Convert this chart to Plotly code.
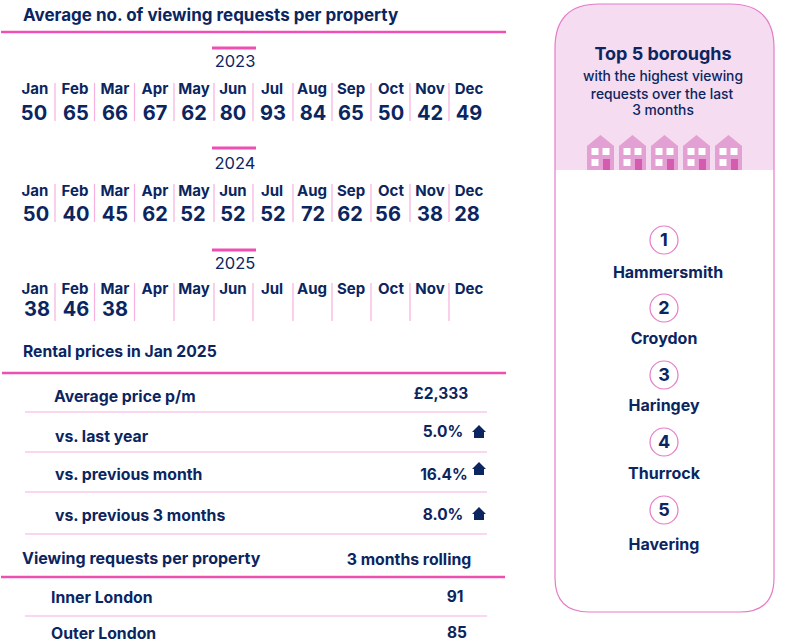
import plotly.graph_objects as go

# data
months = ["Jan", "Feb", "Mar", "Apr", "May", "Jun", "Jul", "Aug", "Sep", "Oct", "Nov", "Dec"]
years = ["2023", "2024", "2025"]
values_2023 = [50, 65, 66, 67, 62, 80, 93, 84, 65, 50, 42, 49]
values_2024 = [50, 40, 45, 62, 52, 52, 52, 72, 62, 56, 38, 28]
values_2025 = [38, 46, 38]

rental_labels = ["Average price p/m", "vs. last year", "vs. previous month", "vs. previous 3 months"]
rental_values = ["£2,333", "5.0%", "16.4%", "8.0%"]

rolling_labels = ["Inner London", "Outer London"]
rolling_values = [91, 85]

boroughs = ["Hammersmith", "Croydon", "Haringey", "Thurrock", "Havering"]

NAVY = "#0b2560"
PINK = "#ee50b2"
LIGHT = "#f7b0e0"
FONT = "Inter"

# layout, all in page pixels
month_x = [35, 75, 115, 155, 194, 233, 272, 312, 351, 391, 430, 469]
sep_x = [55, 94.5, 134.5, 174, 214, 253, 293, 332, 371, 410, 449]
value_x = [
    [34, 76, 115, 155, 194, 233, 273, 313, 351, 391, 430, 469],
    [36, 76, 115, 155, 193, 233, 273, 313, 350, 388, 430, 467],
    [37, 76, 115],
]
year_y = [61, 163, 263]
yearbar_y = [48, 148, 250]
month_y = [89, 191, 289]
value_y = [113, 214, 309]
sep_top = [83, 184, 283]
sep_bot = [121, 222, 321]

fig = go.Figure()
shapes = []


def text(xs, ys, labels, size, weight=650, pos="middle center", color=NAVY):
    # the y values are where the glyphs sit, the font box runs a little high
    fig.add_trace(go.Scatter(
        x=xs, y=[y + 1.7 for y in ys], text=labels, mode="text", textposition=pos, cliponaxis=False,
        textfont=dict(family=FONT, size=size, color=color, weight=weight),
        hoverinfo="skip", showlegend=False))


def line(x0, y0, x1, y1, color, width):
    shapes.append(dict(type="line", x0=x0, y0=y0, x1=x1, y1=y1,
                       line=dict(color=color, width=width), layer="above"))


def house_path(x, y, w, h, roof):
    # x is the left side, y the ground line
    return (f"M{x},{y} L{x},{y-h+roof} L{x+w/2},{y-h} L{x+w},{y-h+roof} L{x+w},{y} Z")


def small_house_path(cx, y):
    # little arrow house, the roof overhangs the walls
    return (f"M{cx-5},{y} L{cx-5},{y-6} L{cx-7},{y-6} L{cx},{y-13} "
            f"L{cx+7},{y-6} L{cx+5},{y-6} L{cx+5},{y} Z")


# right hand panel
shapes.append(dict(type="path", layer="below", fillcolor="#f5dcf0", line=dict(width=0),
                   path="M555,170 L555,48 Q555,4 599,4 L730,4 Q774,4 774,48 L774,170 Z"))
shapes.append(dict(type="path", layer="above", fillcolor="rgba(0,0,0,0)",
                   line=dict(color="#e57cc6", width=1.2),
                   path="M555,48 Q555,4 599,4 L730,4 Q774,4 774,48 L774,578 "
                        "Q774,612 740,612 L589,612 Q555,612 555,578 Z"))

for hx in [587, 619, 651, 683, 715]:
    shapes.append(dict(type="path", path=house_path(hx, 170, 27, 35, 11),
                       fillcolor="#e3a0d2", line=dict(width=0)))
    for wx, wy in [(hx + 4.5, 148), (hx + 15.5, 148), (hx + 4.5, 159)]:
        shapes.append(dict(type="rect", x0=wx, x1=wx + 7, y0=wy, y1=wy + 7,
                           fillcolor="white", line=dict(width=0)))
    shapes.append(dict(type="rect", x0=hx + 16, x1=hx + 23, y0=159, y1=170,
                       fillcolor="#d45bb0", line=dict(width=0)))

# section rules
line(1, 32, 506, 32, PINK, 2.4)
line(2, 373, 506, 373, PINK, 2.4)
line(1, 577, 505, 577, PINK, 2.4)
for y in [412, 452, 492, 534]:
    line(25, y, 487, y, LIGHT, 1.2)
line(25, 616, 487, 616, LIGHT, 1.2)

# title and year blocks
text([23], [15], ["Average no. of viewing requests per property"], 17, pos="middle right")

all_values = [values_2023, values_2024, values_2025]
for i, year in enumerate(years):
    line(212, yearbar_y[i], 256, yearbar_y[i], PINK, 3)
    text([235], [year_y[i]], [year], 16.5, weight=400)
    text(month_x, [month_y[i]] * 12, months, 15)
    vals = all_values[i]
    text(value_x[i], [value_y[i]] * len(vals), [str(v) for v in vals], 20)
    for sx in sep_x:
        line(sx, sep_top[i], sx, sep_bot[i], LIGHT, 1.2)

# rental prices
text([23], [351], ["Rental prices in Jan 2025"], 15.7, pos="middle right")
text([54, 55, 55, 55], [396, 436, 474, 515], rental_labels, 15.8, pos="middle right")
text([441, 443, 444, 443], [393, 431, 474, 514], rental_values, 15.5)
for ax, ay in [(479, 438), (479, 475), (479, 520)]:
    shapes.append(dict(type="path", path=small_house_path(ax, ay),
                       fillcolor=NAVY, line=dict(width=0)))

# viewing requests
text([22], [558], ["Viewing requests per property"], 16, pos="middle right")
text([409], [559], ["3 months rolling"], 15.8)
text([51, 51], [597, 633], rolling_labels, 15.8, pos="middle right")
text([455, 457], [596, 632], [str(v) for v in rolling_values], 15.5)

# top 5 list
text([663], [54], ["Top 5 boroughs"], 18)
text([663, 662, 663], [76, 94, 110], ["with the highest viewing", "requests over the last", "3 months"], 13.8, weight=500)

circle_y = [240, 308, 375, 442, 510]
name_y = [272, 338, 405, 473, 544]
for i, name in enumerate(boroughs):
    shapes.append(dict(type="circle", x0=650, x1=678, y0=circle_y[i] - 14, y1=circle_y[i] + 14,
                       line=dict(color="#e57cc6", width=1.2), fillcolor="white", layer="below"))
    text([664], [circle_y[i]], [str(i + 1)], 18)
    text([668 if i == 0 else 664], [name_y[i]], [name], 16)

fig.update_layout(
    width=800, height=644, margin=dict(l=0, r=0, t=0, b=0),
    paper_bgcolor="white", plot_bgcolor="white", showlegend=False,
    xaxis=dict(range=[0, 800], visible=False, fixedrange=True),
    yaxis=dict(range=[644, 0], visible=False, fixedrange=True),
    shapes=shapes,
)

# the page's default body margin would push the chart off by 8px
fig.write_html("out.html", config=dict(displayModeBar=False),
               post_script="document.body.style.margin='0';document.body.style.overflow='hidden';")
